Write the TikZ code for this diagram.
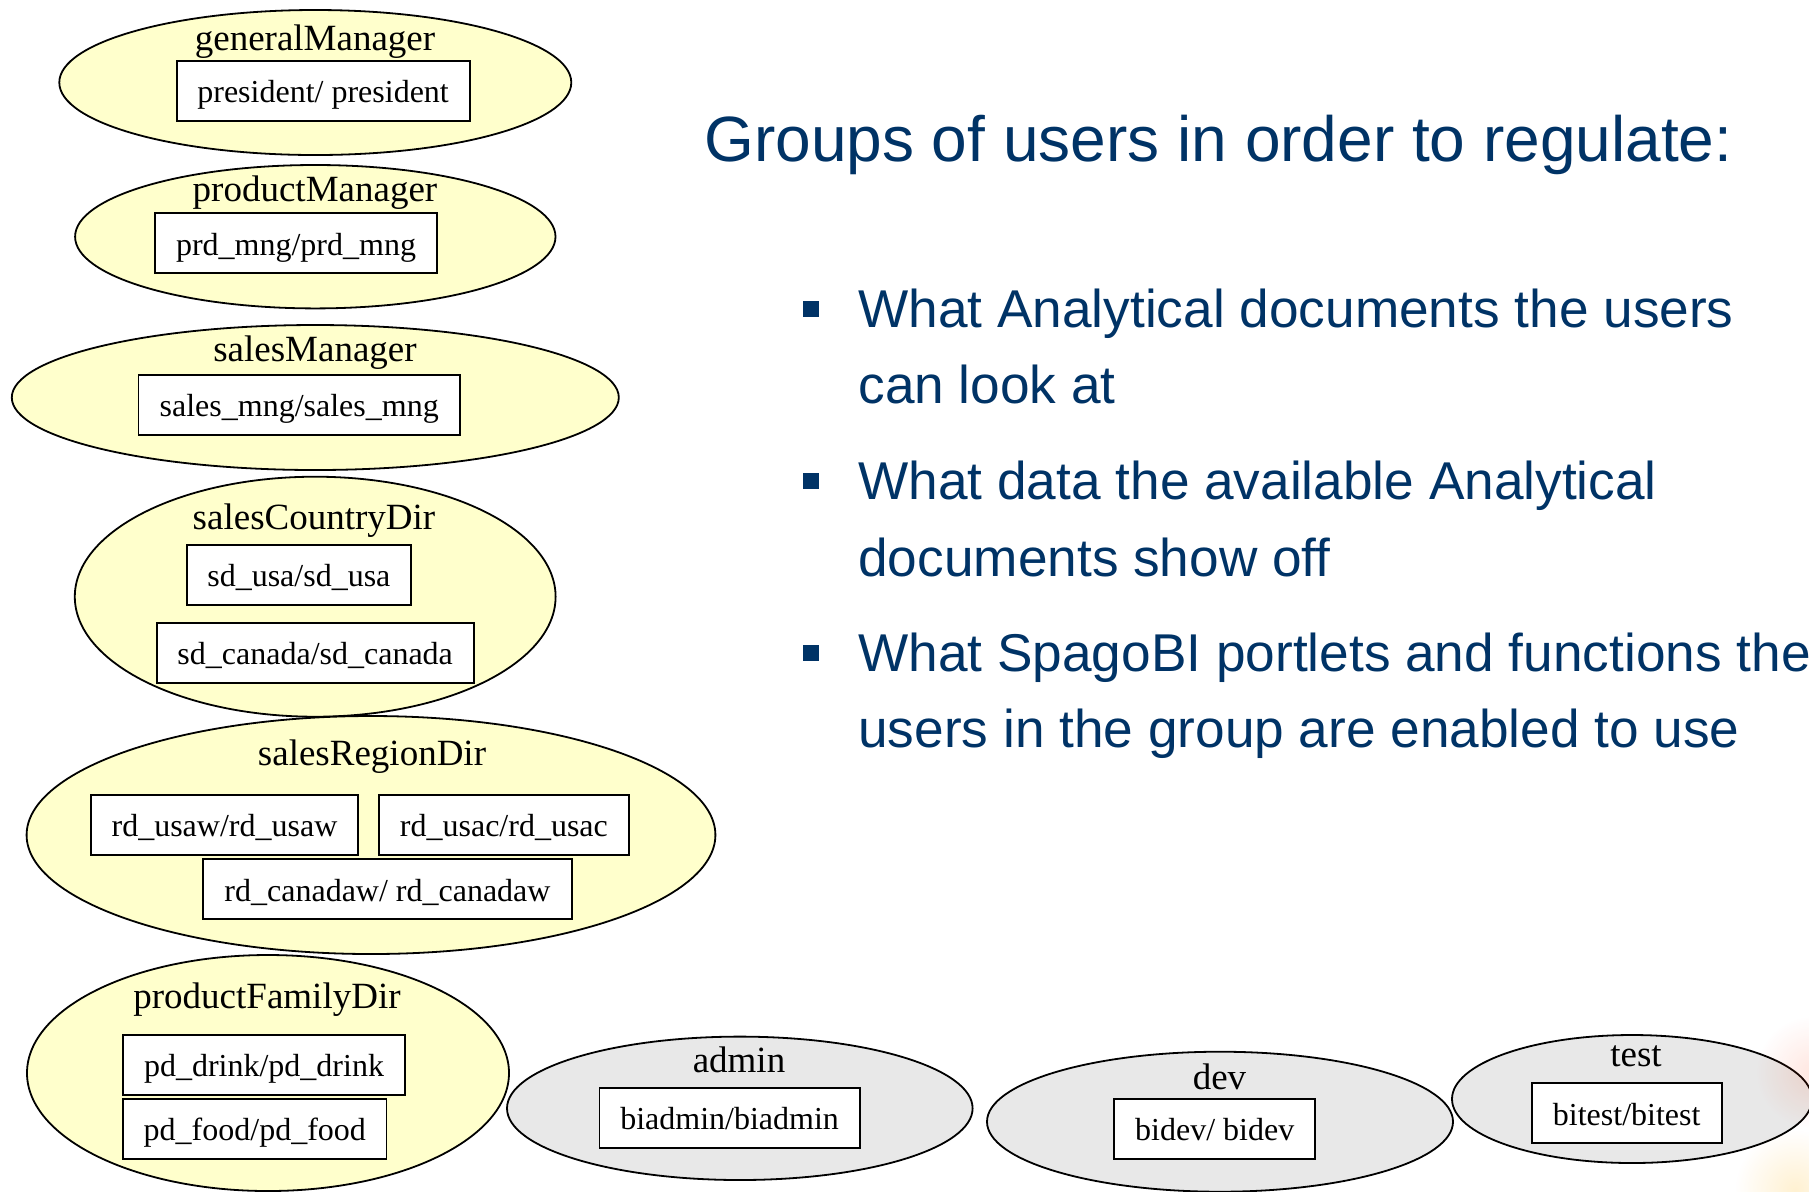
\documentclass[tikz,border=0pt]{standalone}
\usepackage{fontspec}
\setmainfont{Liberation Serif}
\newfontfamily\arialf{Liberation Sans}
\usetikzlibrary{shapes.geometric,fadings}
\definecolor{grpyellow}{HTML}{FFFFCC}
\definecolor{grpgray}{HTML}{E8E8E8}
\definecolor{slideblue}{HTML}{003366}
\tikzfading[name=glowfade, inner color=transparent!0, outer color=transparent!100]
\begin{document}
\begin{tikzpicture}[x=0.5pt,y=-0.5pt,
  grp/.style={ellipse, draw=black, line width=0.9pt, inner sep=0pt, outer sep=0pt},
  yel/.style={grp, fill=grpyellow},
  gry/.style={grp, fill=grpgray},
  grptitle/.style={anchor=base, inner sep=0pt, font=\fontsize{18.5pt}{22pt}\selectfont},
  userbox/.style={draw=black, fill=white, line width=0.9pt, inner sep=0pt,
    text height=1.27em, text depth=0.1em, minimum height=30pt,
    font=\fontsize{16pt}{19pt}\selectfont},
  slidetitle/.style={anchor=base west, inner sep=0pt, text=slideblue,
    font=\arialf\fontsize{32pt}{38pt}\selectfont},
  slideline/.style={anchor=base west, inner sep=0pt, text=slideblue,
    font=\arialf\fontsize{26.6pt}{32pt}\selectfont},
  sqbullet/.style={rectangle, fill=slideblue, inner sep=0pt, minimum size=8pt}
]
\useasboundingbox (0,0) rectangle (1809,1191);
\fill[white] (0,0) rectangle (1809,1191);

% group ellipses
\node[yel, minimum width=256pt, minimum height=72.5pt] (gm) at (315.3,82.5) {};
\node[yel, minimum width=240.2pt, minimum height=71.7pt] (pm) at (315.3,236.7) {};
\node[yel, minimum width=303.5pt, minimum height=72.5pt] (sm) at (315.3,397.5) {};
\node[yel, minimum width=240.4pt, minimum height=120pt] (scd) at (315.2,596.7) {};
\node[yel, minimum width=344.4pt, minimum height=119pt] (srd) at (371,835) {};
\node[yel, minimum width=241pt, minimum height=118pt] (pfd) at (268,1073) {};
\node[gry, minimum width=232.8pt, minimum height=71.7pt] (adm) at (739.8,1108.3) {};
\node[gry, minimum width=233pt, minimum height=70pt] (dev) at (1220,1121.7) {};
\node[gry, minimum width=180pt, minimum height=64pt] (tst) at (1632,1099) {};

% group titles
\node[grptitle] (gmt) at (315,50) {generalManager};
\node[grptitle] (pmt) at (315,201) {productManager};
\node[grptitle] (smt) at (315,361.7) {salesManager};
\node[grptitle] (scdt) at (314,529.3) {salesCountryDir};
\node[grptitle] (srdt) at (372,765) {salesRegionDir};
\node[grptitle] (pfdt) at (267,1008) {productFamilyDir};
\node[grptitle] (admt) at (739,1072.7) {admin};
\node[grptitle] (devt) at (1219.5,1089.3) {dev};
\node[grptitle] (tstt) at (1636,1066.7) {test};

% user boxes
\node[userbox, minimum width=146.5pt] (u1) at (323.1,90.9) {president/ president};
\node[userbox, minimum width=141pt] (u2) at (296,243.3) {prd\_mng/prd\_mng};
\node[userbox, minimum width=160.75pt] (u3) at (299.2,405) {sales\_mng/sales\_mng};
\node[userbox, minimum width=112pt] (u4) at (298.9,575) {sd\_usa/sd\_usa};
\node[userbox, minimum width=158.6pt] (u5) at (315.2,652.7) {sd\_canada/sd\_canada};
\node[userbox, minimum width=133.6pt] (u6) at (224.5,825) {rd\_usaw/rd\_usaw};
\node[userbox, minimum width=125.1pt] (u7) at (503.9,825) {rd\_usac/rd\_usac};
\node[userbox, minimum width=184.5pt] (u8) at (387.5,889.3) {rd\_canadaw/ rd\_canadaw};
\node[userbox, minimum width=141pt] (u9) at (264,1065) {pd\_drink/pd\_drink};
\node[userbox, minimum width=131.7pt] (u10) at (254.8,1129.2) {pd\_food/pd\_food};
\node[userbox, minimum width=130.1pt] (u11) at (729.6,1117.7) {biadmin/biadmin};
\node[userbox, minimum width=100.65pt] (u12) at (1214.7,1129.2) {bidev/ bidev};
\node[userbox, minimum width=95pt] (u13) at (1626.7,1113.3) {bitest/bitest};

% slide text
\node[slidetitle] (title) at (704,161) {Groups of users in order to regulate:};
\node[sqbullet] (b1) at (811,308.5) {};
\node[sqbullet] (b2) at (811,480.5) {};
\node[sqbullet] (b3) at (811,652.5) {};
\node[slideline] (l1) at (858,327) {What Analytical documents the users};
\node[slideline] (l2) at (858,403) {can look at};
\node[slideline] (l3) at (858,499) {What data the available Analytical};
\node[slideline] (l4) at (858,576) {documents show off};
\node[slideline] (l5) at (858,671) {What SpagoBI portlets and functions the};
\node[slideline] (l6) at (858,747) {users in the group are enabled to use};

% faint watermark glow at the lower right corner
\fill[red!55!orange, path fading=glowfade, opacity=0.12] (1812,1072) circle (28pt);
\fill[orange!60!yellow, path fading=glowfade, opacity=0.18] (1795,1190) circle (30pt);
\end{tikzpicture}
\end{document}
